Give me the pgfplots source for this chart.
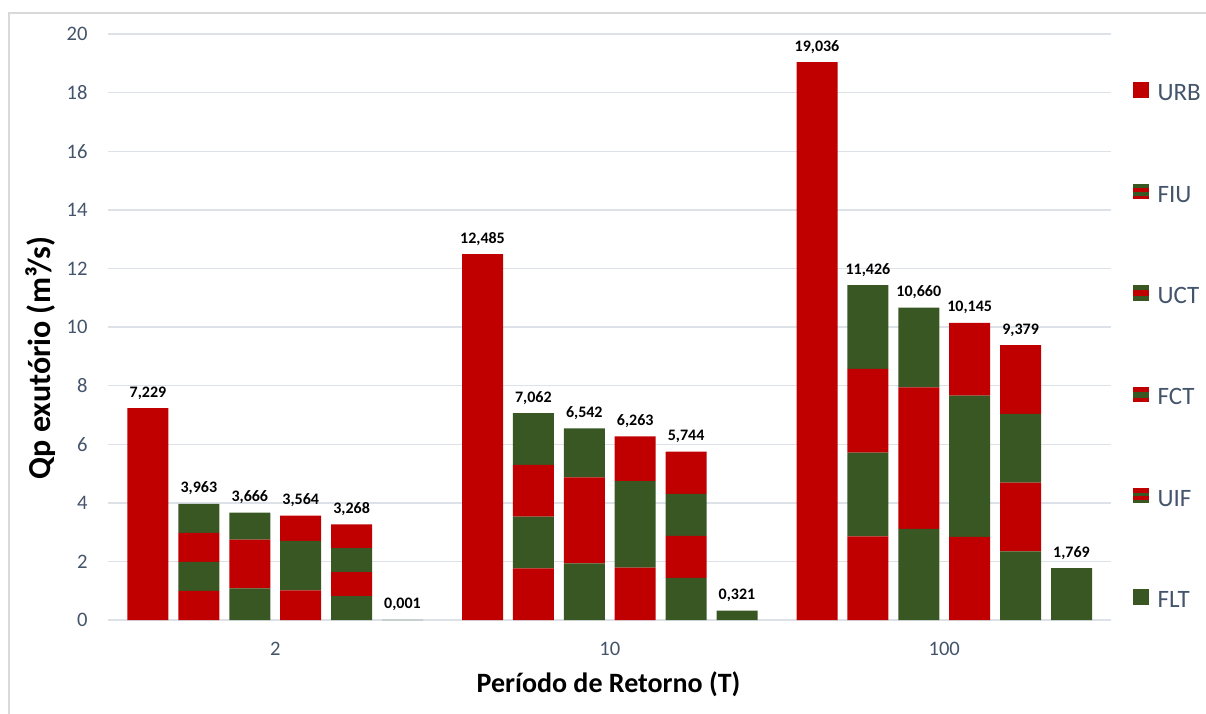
\documentclass[border=0pt]{standalone}
\usepackage{fontspec}
\setmainfont{Carlito}
\usepackage{pgfplots}
\usepackage{pgfplotstable}
\pgfplotsset{compat=1.18}
\definecolor{cR}{HTML}{C00000}
\definecolor{cG}{HTML}{385723}
\definecolor{cTick}{HTML}{44546A}
\definecolor{cGrid}{HTML}{DDE1E8}
\definecolor{cFrame}{HTML}{D9D9D9}

\pgfplotstableread{
x      r1     g1     r2     g2     r3     g3     r4     g4     tot     lab
148    7.229  0      0      0      0      0      0      0      7.229   7,229
198.9  0.991  0      0      0.991  0.991  0      0      0.990  3.963   3,963
249.8  0      1.08   1.66   0      0      0.926  0      0      3.666   3,666
300.7  1.01   0      0      1.69   0.864  0      0      0      3.564   3,564
351.6  0      0.817  0.817  0      0      0.817  0.817  0      3.268   3,268
402.5  0      0.001  0      0      0      0      0      0      0.001   0,001
482.5  12.485 0      0      0      0      0      0      0      12.485  12,485
533.4  1.7655 0      0      1.7655 1.7655 0      0      1.7655 7.062   7,062
584.3  0      1.93   2.94   0      0      1.672  0      0      6.542   6,542
635.2  1.79   0      0      2.95   1.523  0      0      0      6.263   6,263
686.1  0      1.436  1.436  0      0      1.436  1.436  0      5.744   5,744
737    0      0.321  0      0      0      0      0      0      0.321   0,321
817    19.036 0      0      0      0      0      0      0      19.036  19,036
867.9  2.8565 0      0      2.8565 2.8565 0      0      2.8565 11.426  11,426
918.8  0      3.11   4.83   0      0      2.72   0      0      10.660  10,660
969.7  2.84   0      0      4.82   2.485  0      0      0      10.145  10,145
1020.6 0      2.3448 2.3448 0      0      2.3448 2.3447 0      9.379   9,379
1071.5 0      1.769  0      0      0      0      0      0      1.769   1,769
}\bars

\pgfplotsset{geom/.style={at={(0,0)}, anchor=south west, scale only axis,
  width=501.5pt, height=293pt, xmin=108, xmax=1111, ymin=0, ymax=20, clip=false}}

\begin{document}
\begin{tikzpicture}
\useasboundingbox (-54pt,-46.5pt) rectangle (549pt,310pt);
\draw[cFrame, line width=0.6pt] (-49.5pt,-48pt) -- (-49.5pt,303.5pt) -- (551pt,303.5pt);
\begin{axis}[
  geom,
  ybar stacked, bar width=41,
  xtick={275.25,609.75,944.25}, xticklabels={2,10,100},
  ytick={0,2,...,20},
  ymajorgrids, grid style={cGrid, line width=0.7pt},
  axis line style={draw=none}, major tick length=0pt,
  tick label style={font=\fontsize{10.3}{12}\selectfont, text=cTick},
  /pgf/number format/assume math mode=true,
  xticklabel style={inner sep=0pt, yshift=-10.8pt, anchor=north},
  yticklabel style={inner sep=0pt, xshift=-10pt, anchor=east},
  xlabel={Período de Retorno (T)},
  ylabel={Qp exutório (m³/s)},
  every axis x label/.style={at={(axis description cs:0.499,0)}, anchor=base, yshift=-36.3pt, font=\bfseries\fontsize{14}{17}\selectfont},
  every axis y label/.style={at={(axis description cs:-0.0578,0.447)}, anchor=base, rotate=90, font=\bfseries\fontsize{16}{19}\selectfont},
  legend style={at={(1.0219,0.9181)}, anchor=north west, draw=none, fill=none, inner sep=0pt,
    row sep=38pt, column sep=4.5pt, font=\fontsize{12.5}{14}\selectfont, text=cTick,
    nodes={inner sep=0pt, text height=7.5pt, text depth=3.5pt}},
  legend cell align=left,
]
\addplot[fill=cR, draw=none, forget plot] table[x=x,y=r1]{\bars};
\addplot[fill=cG, draw=none, forget plot] table[x=x,y=g1]{\bars};
\addplot[fill=cR, draw=none, forget plot] table[x=x,y=r2]{\bars};
\addplot[fill=cG, draw=none, forget plot] table[x=x,y=g2]{\bars};
\addplot[fill=cR, draw=none, forget plot] table[x=x,y=r3]{\bars};
\addplot[fill=cG, draw=none, forget plot] table[x=x,y=g3]{\bars};
\addplot[fill=cR, draw=none, forget plot] table[x=x,y=r4]{\bars};
\addplot[fill=cG, draw=none, forget plot] table[x=x,y=g4]{\bars};

\addlegendimage{legend image code/.code={\fill[cR] (0pt,-0.2pt) rectangle (7.2pt,7pt);}}
\addlegendentry{URB}
\addlegendimage{legend image code/.code={
  \fill[cR] (0pt,-0.2pt) rectangle (7.2pt,1.6pt);
  \fill[cG] (0pt,1.6pt) rectangle (7.2pt,3.4pt);
  \fill[cR] (0pt,3.4pt) rectangle (7.2pt,5.2pt);
  \fill[cG] (0pt,5.2pt) rectangle (7.2pt,7pt);}}
\addlegendentry{FIU}
\addlegendimage{legend image code/.code={
  \fill[cG] (0pt,-0.2pt) rectangle (7.2pt,2pt);
  \fill[cR] (0pt,2pt) rectangle (7.2pt,5pt);
  \fill[cG] (0pt,5pt) rectangle (7.2pt,7pt);}}
\addlegendentry{UCT}
\addlegendimage{legend image code/.code={
  \fill[cR] (0pt,-0.2pt) rectangle (7.2pt,2pt);
  \fill[cG] (0pt,2pt) rectangle (7.2pt,5pt);
  \fill[cR] (0pt,5pt) rectangle (7.2pt,7pt);}}
\addlegendentry{FCT}
\addlegendimage{legend image code/.code={
  \fill[cG] (0pt,-0.2pt) rectangle (7.2pt,1.6pt);
  \fill[cR] (0pt,1.6pt) rectangle (7.2pt,3.4pt);
  \fill[cG] (0pt,3.4pt) rectangle (7.2pt,5.2pt);
  \fill[cR] (0pt,5.2pt) rectangle (7.2pt,7pt);}}
\addlegendentry{UIF}
\addlegendimage{legend image code/.code={\fill[cG] (0pt,-0.2pt) rectangle (7.2pt,7pt);}}
\addlegendentry{FLT}
\end{axis}
\begin{axis}[geom, hide axis]
\addplot[only marks, mark=none, nodes near coords, point meta=explicit symbolic,
  nodes near coords style={font=\bfseries\fontsize{8}{9.5}\selectfont, text=black, anchor=base, yshift=5.5pt, inner sep=0pt}]
  table[x=x,y=tot,meta=lab]{\bars};
\end{axis}
\end{tikzpicture}
\end{document}
